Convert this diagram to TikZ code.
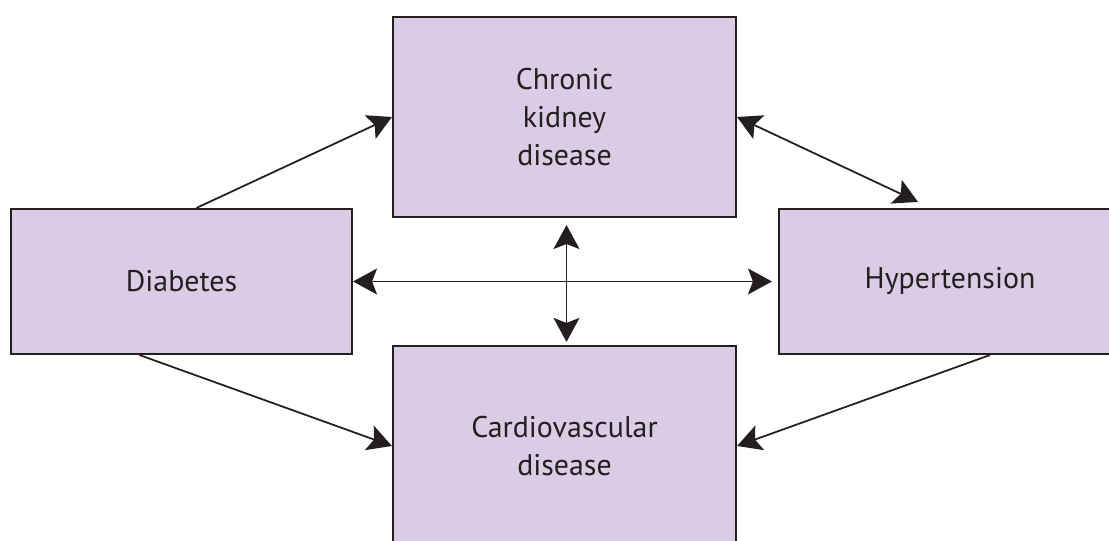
\documentclass[tikz,border=0pt]{standalone}
\usepackage{fontspec}
\setmainfont{PT Sans}
\usetikzlibrary{arrows.meta,calc}

\definecolor{boxfill}{RGB}{217,204,228}
\definecolor{inkline}{RGB}{35,31,32}

\tikzset{
  condition/.style={draw=inkline, line width=0.6pt, fill=boxfill, minimum width=3.43cm,
    align=center, inner sep=0pt, text=inkline, font=\fontsize{8.5}{10.8}\selectfont},
  link/.style={draw=inkline, line width=0.5pt, -{Stealth[length=2.4mm,width=2.6mm,inset=0.5mm]}},
  twoway/.style={draw=inkline, line width=0.5pt,
    {Stealth[length=2.4mm,width=2.6mm,inset=0.5mm]}-{Stealth[length=2.4mm,width=2.6mm,inset=0.5mm]}}
}

\begin{document}
\begin{tikzpicture}
  % Frame of the figure (boxes run off the right and bottom edges)
  \path[use as bounding box, clip] (0,0) rectangle (11.09,5.41);

  % Conditions
  \node[condition, minimum height=2cm] (ckd) at (5.645,4.24) {Chronic\\kidney\\disease};
  \node[condition, minimum width=3.41cm, minimum height=1.45cm] (diab) at (1.815,2.595) {Diabetes};
  \node[condition, minimum width=3.42cm, minimum height=1.45cm] (hyper) at (9.50,2.595) {Hypertension};
  \node[condition, minimum height=2cm] (cvd) at (5.645,0.95) {Cardiovascular\\disease};

  % One-way links
  \draw[link] ($(diab.north)+(0.15,0)$) -- (ckd.west);
  \draw[link] ($(diab.south)+(-0.42,0)$) -- (cvd.west);
  \draw[link] ($(hyper.south)+(0.40,0)$) -- (cvd.east);

  % Two-way links
  \draw[twoway] (ckd.east) -- ($(hyper.north)+(-0.32,0.06)$);
  \draw[twoway, shorten >=0.06cm] (diab.east) -- (hyper.west);
  \draw[twoway, shorten <=0.07cm, shorten >=0.03cm] ($(ckd.south)+(0.02,0)$) -- ($(cvd.north)+(0.02,0)$);
\end{tikzpicture}
\end{document}
